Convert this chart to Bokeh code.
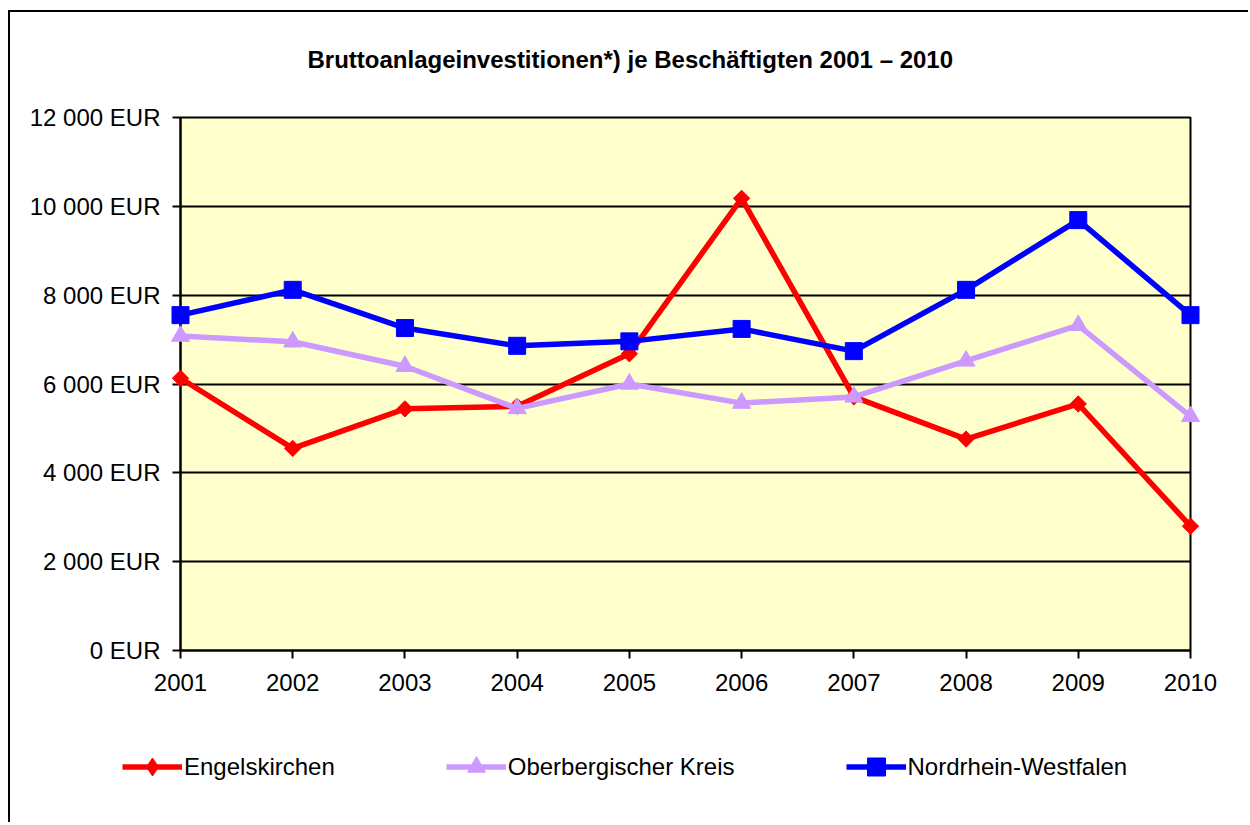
import numpy as np
from bokeh.plotting import figure
from bokeh.models import Range1d, FixedTicker, Legend, LegendItem, Title
from bokeh.embed import file_html
from bokeh.resources import INLINE

years = [2001, 2002, 2003, 2004, 2005, 2006, 2007, 2008, 2009, 2010]
engelskirchen = [6130, 4550, 5440, 5500, 6680, 10180, 5710, 4760, 5550, 2800]
oberberg = [7080, 6950, 6400, 5450, 6000, 5570, 5710, 6520, 7320, 5270]
nrw = [7550, 8120, 7260, 6860, 6960, 7240, 6740, 8120, 9690, 7550]
y_ticks = [0, 2000, 4000, 6000, 8000, 10000, 12000]
y_tick_labels = ["0 EUR", "2 000 EUR", "4 000 EUR", "6 000 EUR", "8 000 EUR", "10 000 EUR", "12 000 EUR"]
series_names = ["Engelskirchen", "Oberbergischer Kreis", "Nordrhein-Westfalen"]
title_text = "Bruttoanlageinvestitionen*) je Beschäftigten 2001 \u2013 2010"

FONT = "Liberation Sans"

p = figure(width=1240, height=700, output_backend="svg", toolbar_location=None,
           x_range=Range1d(2001, 2010), y_range=Range1d(0, 12000),
           min_border_left=170, min_border_right=60, min_border_top=104, min_border_bottom=62)
p.styles = {"margin-left": "8px", "margin-top": "10px",
            "border-top": "2px solid black", "border-left": "2px solid black"}

p.background_fill_color = "#FFFFCC"
p.border_fill_color = "white"
p.outline_line_color = "black"
p.outline_line_width = 2

p.title.text = ""
p.title.standoff = 0

# spacer between frame and title, then the title itself
p.add_layout(Title(text=" ", text_font_size="10px", standoff=0), "above")
p.add_layout(Title(text=title_text, text_font=FONT, text_font_size="24px", text_font_style="bold",
                   text_color="black", align="left", offset=127, standoff=63), "above")

p.xgrid.visible = False
p.ygrid.grid_line_color = "black"
p.ygrid.grid_line_width = 2
p.ygrid.ticker = FixedTicker(ticks=y_ticks)

for ax in (p.xaxis[0], p.yaxis[0]):
    ax.axis_line_color = "black"
    ax.axis_line_width = 2
    ax.major_tick_line_color = "black"
    ax.major_tick_line_width = 2
    ax.major_tick_in = 0
    ax.major_tick_out = 8
    ax.minor_tick_line_color = None
    ax.major_label_text_font = FONT
    ax.major_label_text_font_size = "24px"
    ax.major_label_text_color = "black"

p.yaxis.ticker = FixedTicker(ticks=y_ticks)
p.yaxis.major_label_overrides = {t: l for t, l in zip(y_ticks, y_tick_labels)}
p.yaxis.major_label_standoff = 12
p.xaxis.ticker = FixedTicker(ticks=years)
p.xaxis.major_label_overrides = {y: str(y) for y in years}
p.xaxis.major_label_standoff = 15

styles = [
    (engelskirchen, "#FF0000", dict(marker="square", size=11.5, angle=np.pi / 4), "diamond"),
    (oberberg, "#CC99FF", dict(marker="triangle", size=18), "triangle"),
    (nrw, "#0000FF", dict(marker="square", size=17), "square"),
]

for (vals, color, mk, _) in styles:
    p.line(years, vals, line_color=color, line_width=5.5, level="overlay")
    p.scatter(years, vals, fill_color=color, line_color=color, line_width=1, level="overlay", **mk)

# legend strip below the chart (separate root, its frame spans the whole strip)
q = figure(width=1240, height=112, output_backend="svg", toolbar_location=None,
           x_range=Range1d(0, 1), y_range=Range1d(0, 1), x_axis_type=None, y_axis_type=None,
           min_border=0, min_border_left=0, min_border_right=0, min_border_top=0, min_border_bottom=0)
q.styles = {"margin-left": "8px", "border-left": "2px solid black"}
q.outline_line_color = None
q.background_fill_color = "white"
q.border_fill_color = "white"
q.grid.visible = False

items = []
for (vals, color, mk, legend_marker), name in zip(styles, series_names):
    # same series, outside the strip's ranges: only their legend glyphs show
    ln = q.line(years, vals, line_color=color, line_width=5.5)
    sc = q.scatter(years, vals, marker=legend_marker, size=17,
                   fill_color=color, line_color=color, line_width=1)
    items.append(LegendItem(label=name, renderers=[ln, sc]))

lg = Legend(items=items, location=(112, 33), orientation="horizontal",
            glyph_width=60, glyph_height=45, label_standoff=2, spacing=111,
            padding=0, margin=0, border_line_alpha=0, background_fill_alpha=0,
            label_text_font=FONT, label_text_font_size="24px", label_text_color="black")
q.add_layout(lg, "center")

open("out.html", "w").write(file_html([p, q], INLINE))
